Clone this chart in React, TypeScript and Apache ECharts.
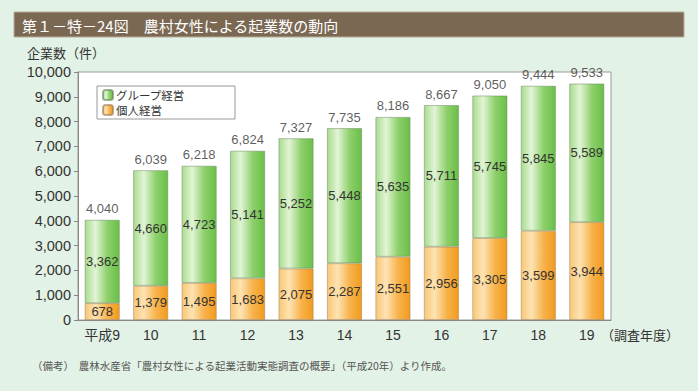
import React, { useEffect, useRef } from "react";
import * as echarts from "echarts";

const categories = ["平成9", "10", "11", "12", "13", "14", "15", "16", "17", "18", "19"];
const personal = [678, 1379, 1495, 1683, 2075, 2287, 2551, 2956, 3305, 3599, 3944];
const group = [3362, 4660, 4723, 5141, 5252, 5448, 5635, 5711, 5745, 5845, 5589];
const totals = [4040, 6039, 6218, 6824, 7327, 7735, 8186, 8667, 9050, 9444, 9533];
const yTicks = { min: 0, max: 10000, interval: 1000 };

const FONT = '"Liberation Sans", "Noto Sans CJK JP", sans-serif';
const JP = '"Noto Sans CJK JP", sans-serif';

const fmt = (v: number) => v.toLocaleString("en-US");

export default function App() {
  const ref = useRef<HTMLDivElement>(null);
  useEffect(() => {
    if (!ref.current) return;
    const chart = echarts.init(ref.current, null, { renderer: "svg" });
    const greenGrad = new echarts.graphic.LinearGradient(0, 0, 1, 0, [
      { offset: 0, color: "#a9dc8e" },
      { offset: 0.3, color: "#e2f4d6" },
      { offset: 0.65, color: "#8ed06c" },
      { offset: 1, color: "#6abf48" },
    ]);
    const orangeGrad = new echarts.graphic.LinearGradient(0, 0, 1, 0, [
      { offset: 0, color: "#f9c776" },
      { offset: 0.3, color: "#fde3b3" },
      { offset: 0.65, color: "#f8b34c" },
      { offset: 1, color: "#f29b1e" },
    ]);
    chart.setOption({
      animation: false,
      backgroundColor: "#e3f2e6",
      textStyle: { fontFamily: FONT },
      grid: {
        left: 78,
        right: 87,
        top: 72,
        bottom: 71,
        show: true,
        backgroundColor: "#ffffff",
        borderColor: "#9a9a9a",
        borderWidth: 1,
      },
      legend: {
        data: ["グループ経営", "個人経営"],
        orient: "vertical",
        left: 97,
        top: 86,
        backgroundColor: "#ffffff",
        borderColor: "#999",
        borderWidth: 1,
        padding: [3, 50, 3, 5],
        itemWidth: 10,
        itemHeight: 10,
        itemGap: 3,
        textStyle: { fontSize: 11.5, color: "#333", fontFamily: JP, padding: [0, 0, 0, -2] },
      },
      xAxis: {
        type: "category",
        data: categories,
        axisLine: { lineStyle: { color: "#888" } },
        axisTick: { inside: true, length: 3, lineStyle: { color: "#888" } },
        axisLabel: { fontSize: 14, color: "#333", margin: 8, fontFamily: FONT },
      },
      yAxis: {
        type: "value",
        min: yTicks.min,
        max: yTicks.max,
        interval: yTicks.interval,
        splitLine: { show: false },
        axisLine: { show: true, lineStyle: { color: "#888" } },
        axisTick: { show: true, length: 4, lineStyle: { color: "#888" } },
        axisLabel: { fontSize: 14.5, color: "#333", margin: 7, formatter: (v: number) => fmt(v) },
      },
      series: [
        {
          name: "個人経営",
          type: "bar",
          stack: "t",
          data: personal,
          barWidth: 35,
          itemStyle: { color: orangeGrad, borderColor: "rgba(150,120,80,0.6)", borderWidth: 0.8 },
          label: { show: true, position: "inside", fontSize: 13, color: "#333", formatter: (p: any) => fmt(p.value) },
        },
        {
          name: "グループ経営",
          type: "bar",
          stack: "t",
          data: group,
          barWidth: 35,
          itemStyle: { color: greenGrad, borderColor: "rgba(100,130,90,0.6)", borderWidth: 0.8 },
          label: { show: true, position: "inside", fontSize: 13, color: "#333", formatter: (p: any) => fmt(p.value) },
        },
        {
          name: "合計",
          type: "scatter",
          data: totals,
          symbolSize: 1,
          itemStyle: { color: "rgba(0,0,0,0)" },
          label: { show: true, position: "top", distance: 4, fontSize: 13, color: "#333", formatter: (p: any) => fmt(p.value) },
          silent: true,
        },
      ],
      graphic: [
        {
          type: "rect",
          shape: { x: 14, y: 12, width: 670, height: 25 },
          style: { fill: "#7b6853", stroke: "#b9aa98", lineWidth: 1 },
        },
        {
          type: "text",
          x: 22,
          y: 25,
          style: {
            text: "第１－特－24図　農村女性による起業数の動向",
            fill: "#ffffff",
            font: `15px ${JP}`,
            verticalAlign: "middle",
          },
        },
        {
          type: "text",
          x: 27,
          y: 52,
          style: { text: "企業数（件）", fill: "#333", font: `13px ${JP}`, verticalAlign: "middle" },
        },
        {
          type: "text",
          x: 601,
          y: 334,
          style: { text: "（調査年度）", fill: "#333", font: `13px ${JP}`, verticalAlign: "middle" },
        },
        {
          type: "text",
          x: 32,
          y: 365,
          style: {
            text: "（備考）  農林水産省「農村女性による起業活動実態調査の概要」（平成20年）より作成。",
            fill: "#555",
            font: `10.5px ${JP}`,
            verticalAlign: "middle",
          },
        },
      ],
    });
    return () => chart.dispose();
  }, []);
  return <div ref={ref} style={{ position: "fixed", left: 0, top: 0, width: 698, height: 391 }} />;
}
